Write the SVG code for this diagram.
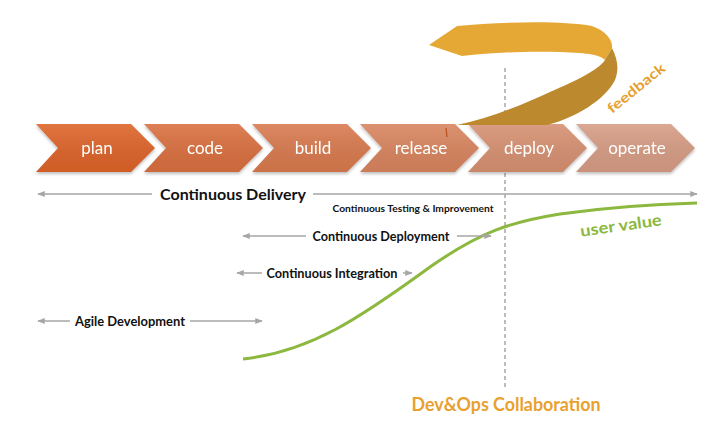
<svg xmlns="http://www.w3.org/2000/svg" width="720" height="428" viewBox="0 0 720 428">
<style>
.chev text{font-family:Lato,"Open Sans","Liberation Sans",sans-serif;font-size:17px;fill:#fff;text-anchor:middle}
.lbl{font-family:Lato,"Open Sans","Liberation Sans",sans-serif;font-weight:bold;fill:#111;text-anchor:middle}
.ar{stroke:#a6a6a6;stroke-width:1.5;fill:none;marker-end:url(#ah)}
.al{stroke:#a6a6a6;stroke-width:1.5;fill:none;marker-start:url(#ahs)}
</style>
<defs>
<marker id="ah" viewBox="0 0 10 10" refX="9" refY="5" markerWidth="5" markerHeight="5" orient="auto" markerUnits="strokeWidth"><path d="M0,1 L10,5 L0,9 Z" fill="#a6a6a6"/></marker>
<marker id="ahs" viewBox="0 0 10 10" refX="1" refY="5" markerWidth="5" markerHeight="5" orient="auto" markerUnits="strokeWidth"><path d="M10,1 L0,5 L10,9 Z" fill="#a6a6a6"/></marker>
<linearGradient id="sheen" x1="0" y1="0" x2="0" y2="1"><stop offset="0" stop-color="#fff" stop-opacity="0.12"/><stop offset="1" stop-color="#000" stop-opacity="0.06"/></linearGradient>
<filter id="sh" x="-5%" y="-10%" width="110%" height="130%"><feDropShadow dx="0" dy="2" stdDeviation="1.5" flood-color="#000" flood-opacity="0.25"/></filter>
<path id="cv" d="M0,124 L95,124 L119,148 L95,172 L0,172 L22,148 Z"/>
</defs>
<rect width="720" height="428" fill="#fff"/>

<g id="connectors">
<line x1="505" y1="68" x2="505" y2="390" stroke="#a6a6a6" stroke-width="1.5" stroke-dasharray="4 3"/>
<path d="M243,359 C 310,352 360,318 430,267 C 480,232 510,222 560,214 C 610,207 660,204 697,203" fill="none" stroke="#8cb83f" stroke-width="3"/>
<line class="al" x1="38" y1="194" x2="152" y2="194"/>
<line class="ar" x1="313" y1="194" x2="697" y2="194"/>
<line class="al" x1="243" y1="236" x2="306" y2="236"/>
<line class="ar" x1="457" y1="236" x2="491" y2="236"/>
<line class="al" x1="237" y1="273" x2="262" y2="273"/>
<line class="ar" x1="403" y1="273" x2="412" y2="273"/>
<line class="al" x1="38" y1="321" x2="70" y2="321"/>
<line class="ar" x1="190" y1="321" x2="262" y2="321"/>
</g>

<g id="chevrons" filter="url(#sh)">
<g id="plan" class="chev"><use href="#cv" x="36" fill="#dd6329"/><use href="#cv" x="36" fill="url(#sheen)"/><text x="97" y="154">plan</text></g>
<g id="code" class="chev"><use href="#cv" x="144" fill="#d96f3f"/><use href="#cv" x="144" fill="url(#sheen)"/><text x="205" y="154">code</text></g>
<g id="build" class="chev"><use href="#cv" x="252" fill="#d8794e"/><use href="#cv" x="252" fill="url(#sheen)"/><text x="313" y="154">build</text></g>
<g id="release" class="chev"><use href="#cv" x="360" fill="#d8845e"/><use href="#cv" x="360" fill="url(#sheen)"/><text x="421" y="154">release</text></g>
<g id="deploy" class="chev"><use href="#cv" x="468" fill="#d69071"/><use href="#cv" x="468" fill="url(#sheen)"/><text x="529" y="154">deploy</text></g>
<g id="operate" class="chev"><use href="#cv" x="576" fill="#d69c84"/><use href="#cv" x="576" fill="url(#sheen)"/><text x="637" y="154">operate</text></g>
</g>
<line x1="446" y1="128" x2="447" y2="137" stroke="#b8521e" stroke-width="1.2"/>

<g id="feedback">
<path d="M429,45 L457,26 C500,22 560,20 592,26 C606,31 613,40 612,48 L605,60 C600,55 590,53 560,52 C520,51 490,53 462,56 Z" fill="#e6a835"/>
<path d="M612,48 C618,60 619,70 615,80 C605,100 575,118 547,125 L457,125 C490,118 520,106 550,92 C578,80 598,70 605,60 Z" fill="#bd892e"/>
<text x="636" y="93" transform="rotate(-39 636 88)" font-family="Lato,'Open Sans','Liberation Sans',sans-serif" font-weight="bold" font-size="14" fill="#e6a030" text-anchor="middle" textLength="70" lengthAdjust="spacingAndGlyphs">feedback</text>
</g>

<g id="labels">
<text class="lbl" x="233" y="200" font-size="16" textLength="146" lengthAdjust="spacingAndGlyphs">Continuous Delivery</text>
<text class="lbl" x="413" y="212" font-size="9.5" textLength="161" lengthAdjust="spacingAndGlyphs">Continuous Testing &amp; Improvement</text>
<text class="lbl" x="381" y="241" font-size="13" textLength="137" lengthAdjust="spacingAndGlyphs">Continuous Deployment</text>
<text class="lbl" x="332" y="278" font-size="13" textLength="131" lengthAdjust="spacingAndGlyphs">Continuous Integration</text>
<text class="lbl" x="130" y="326" font-size="13" textLength="110" lengthAdjust="spacingAndGlyphs">Agile Development</text>
<text x="621" y="231" transform="rotate(-8 621 226)" font-family="Lato,'Open Sans','Liberation Sans',sans-serif" font-weight="bold" font-size="16" fill="#8cb83f" text-anchor="middle" textLength="82" lengthAdjust="spacingAndGlyphs">user value</text>
<text x="506" y="411" font-family="Lato,'Open Sans','Liberation Sans',sans-serif" font-weight="bold" font-size="18" fill="#e8a12e" text-anchor="middle" textLength="189" lengthAdjust="spacingAndGlyphs">Dev&amp;Ops Collaboration</text>
</g>
</svg>
